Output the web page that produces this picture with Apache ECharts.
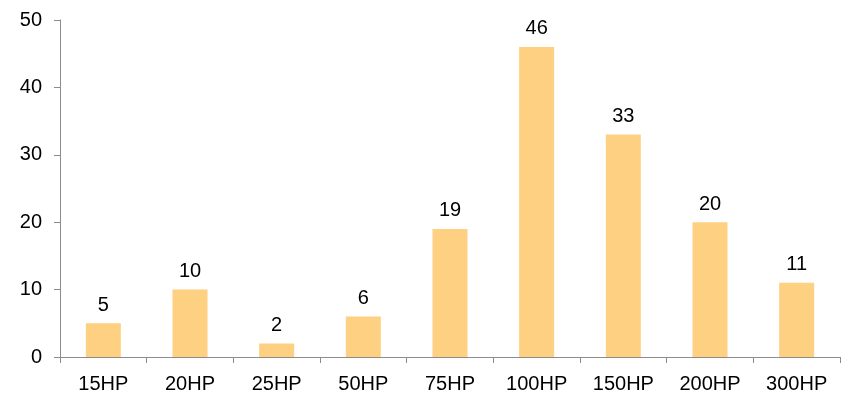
<!DOCTYPE html>
<html>
<head>
<meta charset="utf-8">
<script src="https://cdn.jsdelivr.net/npm/echarts@6/dist/echarts.min.js"></script>
<style>
  html, body { margin: 0; padding: 0; background: #fff; }
  #chart { width: 846px; height: 400px; }
</style>
</head>
<body>
<div id="chart"></div>
<script>
const categories = ["15HP", "20HP", "25HP", "50HP", "75HP", "100HP", "150HP", "200HP", "300HP"];
const counts = [5, 10, 2, 6, 19, 46, 33, 20, 11];

const chart = echarts.init(document.getElementById("chart"));
const axisColor = "#8c8c8c";
const font = "Liberation Sans, Arial, sans-serif";

chart.setOption({
  animation: false,
  grid: { left: 60, right: 6, top: 20, bottom: 43, containLabel: false },
  xAxis: {
    type: "category",
    data: categories,
    axisLine: { lineStyle: { color: axisColor, width: 1 } },
    axisTick: { show: true, length: 6, lineStyle: { color: axisColor } },
    axisLabel: { color: "#000", fontFamily: font, fontSize: 20, margin: 17 },
  },
  yAxis: {
    type: "value",
    min: 0,
    max: 50,
    interval: 10,
    splitLine: { show: false },
    axisLine: { show: true, lineStyle: { color: axisColor, width: 1 } },
    axisTick: { show: true, length: 6, lineStyle: { color: axisColor } },
    axisLabel: { color: "#000", fontFamily: font, fontSize: 20, margin: 18 },
  },
  series: [
    {
      type: "bar",
      data: counts,
      barWidth: 35,
      itemStyle: { color: "#fed081" },
      label: {
        show: true,
        position: "top",
        distance: 8,
        color: "#000",
        fontFamily: font,
        fontSize: 20,
      },
    },
  ],
});
</script>
</body>
</html>
